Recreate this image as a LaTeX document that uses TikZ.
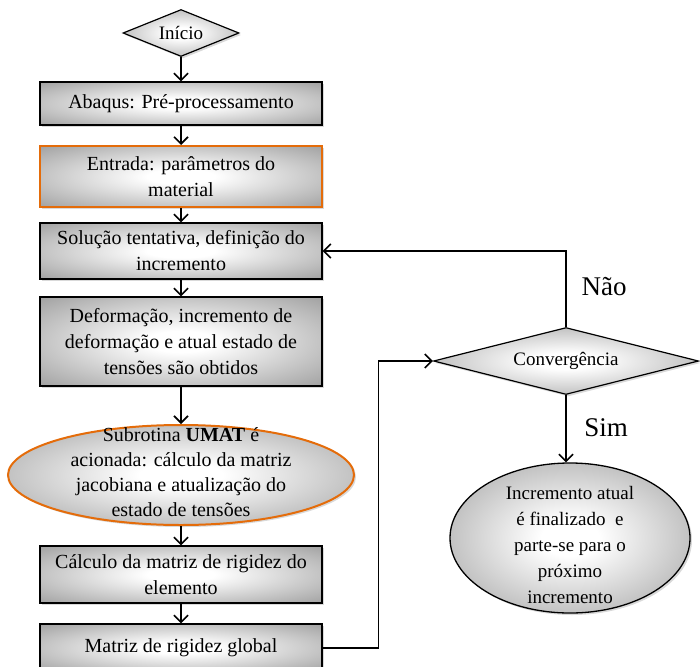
\documentclass[tikz,border=0pt]{standalone}
\usepackage{fontspec}
\setmainfont{Liberation Serif}
\usetikzlibrary{shapes.geometric,arrows.meta,shadows}
\definecolor{borda}{RGB}{228,108,10}
\pgfdeclareradialshading{meuradial}{\pgfpoint{0bp}{0bp}}{color(0bp)=(white); color(6bp)=(white); color(50bp)=(black!55); color(72bp)=(black!65)}
\begin{document}
\begin{tikzpicture}[x=1pt,y=-1pt,
  sh/.style={shading=meuradial},
  shad/.style={drop shadow={shadow xshift=2pt,shadow yshift=-2pt,opacity=0.3}},
  caixa/.style={rectangle, draw=black, line width=1.3pt, sh, shad, minimum width=282pt, align=center, font=\fontsize{20}{26}\selectfont, inner sep=0pt},
  caixalaranja/.style={caixa, draw=borda, line width=2pt},
  losango/.style={diamond, draw=black, line width=1.2pt, sh, shad, inner sep=0pt, aspect=3},
  elipse/.style={ellipse, draw=black, line width=1.3pt, sh, shad, inner sep=0pt},
  texto/.style={align=center, font=\fontsize{20}{26}\selectfont},
  rotulo/.style={font=\fontsize{27}{30}\selectfont},
  seta/.style={draw, line width=1.6pt, -{Straight Barb[length=7pt,width=14pt]}}
]
\useasboundingbox (0,0) rectangle (700,666);
\clip (0,0) rectangle (700,666);

\node[losango, minimum width=116pt, minimum height=47pt, font=\fontsize{19}{22}\selectfont] (ini) at (181,33) {Início};
\node[caixa, minimum height=43pt] (abq) at (181,103.5) {Abaqus: Pré-processamento};
\node[caixalaranja, minimum height=61pt] (ent) at (181,176.5) {Entrada: parâmetros do\\material};
\node[caixa, minimum height=56pt] (sol) at (181,251) {Solução tentativa, definição do\\incremento};
\node[caixa, minimum height=89pt] (def) at (181,341.5) {Deformação, incremento de\\deformação e atual estado de\\tensões são obtidos};
\node[elipse, draw=borda, line width=2pt, minimum width=346pt, minimum height=100pt] (umat) at (181,475) {};
\node[texto, font=\fontsize{20}{25}\selectfont] (umatt) at (181,472) {Subrotina \textbf{UMAT} é\\acionada: cálculo da matriz\\jacobiana e atualização do\\estado de tensões};
\node[caixa, minimum height=57pt] (calc) at (181,574.5) {Cálculo da matriz de rigidez do\\elemento};
\node[caixa, minimum height=48pt] (mat) at (181,648) {Matriz de rigidez global};

\node[losango, aspect=4, minimum width=265pt, minimum height=67pt, font=\fontsize{19}{22}\selectfont] (conv) at (566,361) {Convergência};
\node[elipse, minimum width=240pt, minimum height=150pt] (fin) at (570,538) {};
\node[texto, font=\fontsize{19}{26}\selectfont] (fint) at (570,545) {Incremento atual\\é finalizado~ e\\parte-se para o\\próximo\\incremento};

\node[rotulo] (nao) at (604,287) {Não};
\node[rotulo] (sim) at (606,428) {Sim};

\draw[seta] (ini) -- (abq);
\draw[seta] (abq) -- (ent);
\draw[seta] (ent) -- (sol);
\draw[seta] (sol) -- (def);
\draw[seta] (def) -- (umat);
\draw[seta] (umat) -- (calc);
\draw[seta] (calc) -- (mat);
\draw[seta] (mat.east) -- ++(56,0) |- (conv.west);
\draw[seta] (conv.north) |- (sol.east);
\draw[seta] (conv.south) -- (conv.south |- fin.north);
\end{tikzpicture}
\end{document}
